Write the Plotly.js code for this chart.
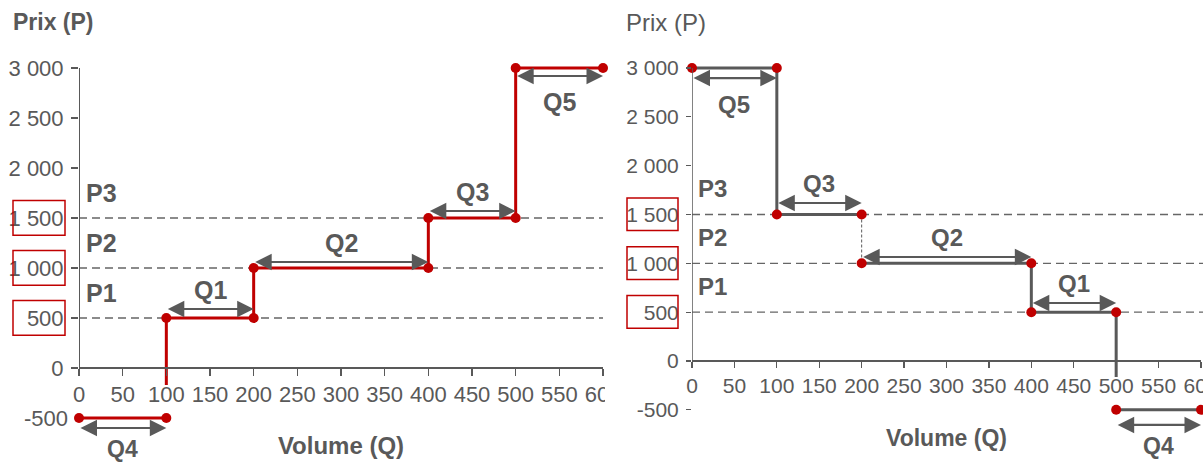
<!DOCTYPE html>
<html>
<head>
<meta charset="utf-8">
<script src="https://cdn.plot.ly/plotly-3.0.1.min.js"></script>
<style>
  html, body { margin: 0; padding: 0; background: #fff; }
  #chart { width: 1203px; height: 464px; }
</style>
</head>
<body>
<div id="chart"></div>
<script>
// ---------- DATA ----------
// Left chart: supply (offre) curve
const offreStepX = [100, 100, 200, 200, 400, 400, 500, 500, 600];
const offreStepY = [-170, 500, 500, 1000, 1000, 1500, 1500, 3000, 3000];
const offreQ4X = [0, 100];
const offreQ4Y = [-500, -500];
const offreDotX = [100, 200, 200, 400, 400, 500, 500, 600, 0, 100];
const offreDotY = [500, 500, 1000, 1000, 1500, 1500, 3000, 3000, -500, -500];
// arrows: label, start Q, end Q, arrow level
const offreArrowLabel = ["Q1", "Q2", "Q3", "Q5", "Q4"];
const offreArrowX0 = [100, 200, 400, 500, 0];
const offreArrowX1 = [200, 400, 500, 600, 100];
const offreArrowY = [590, 1060, 1570, 2920, -600];
const offreArrowLabelSide = ["above", "above", "above", "below", "bottom"];

// Right chart: demand (demande) curve
const demandeStepX = [0, 100, 100, 200];
const demandeStepY = [3000, 3000, 1500, 1500];
const demandeDashX = [200, 200];
const demandeDashY = [1500, 1000];
const demandeStep2X = [200, 400, 400, 500, 500];
const demandeStep2Y = [1000, 1000, 500, 500, -165];
const demandeQ4X = [500, 600];
const demandeQ4Y = [-500, -500];
const demandeDotX = [0, 100, 100, 200, 200, 400, 400, 500, 500, 600];
const demandeDotY = [3000, 3000, 1500, 1500, 1000, 1000, 500, 500, -500, -500];
const demandeArrowLabel = ["Q5", "Q3", "Q2", "Q1", "Q4"];
const demandeArrowX0 = [0, 100, 200, 400, 500];
const demandeArrowX1 = [100, 200, 400, 500, 600];
const demandeArrowY = [2897, 1618, 1065, 594, -655];
const demandeArrowLabelSide = ["below", "above", "above", "above", "bottom"];

// Price levels
const priceLevels = [500, 1000, 1500];
const priceLabels = ["P1", "P2", "P3"];

// Axis ticks
const xTicks = [0, 50, 100, 150, 200, 250, 300, 350, 400, 450, 500, 550, 600];
const yTicks = [0, 500, 1000, 1500, 2000, 2500, 3000];
const yTickText = ["0", "500", "1 000", "1 500", "2 000", "2 500", "3 000"];
const yNegTick = [-500];
const yNegTickText = ["-500"];

// ---------- STYLE ----------
const RED = "#C00000";
const GREY = "#595959";
const FONT = "'Liberation Sans Narrow', 'Arial Narrow', 'Liberation Sans', Arial, sans-serif";
const W = 1203, H = 464;
const px = v => v / W;
const py = v => 1 - v / H;

const traces = [
  // left
  {x: offreStepX, y: offreStepY, xaxis: "x", yaxis: "y", mode: "lines",
   line: {color: RED, width: 3}, hoverinfo: "skip"},
  {x: offreQ4X, y: offreQ4Y, xaxis: "x", yaxis: "y", mode: "lines",
   line: {color: RED, width: 3}, hoverinfo: "skip"},
  {x: offreDotX, y: offreDotY, xaxis: "x", yaxis: "y", mode: "markers",
   marker: {color: RED, size: 10}, cliponaxis: false, hoverinfo: "skip"},
  // right
  {x: demandeStepX, y: demandeStepY, xaxis: "x2", yaxis: "y2", mode: "lines",
   line: {color: GREY, width: 3}, hoverinfo: "skip"},
  {x: demandeDashX, y: demandeDashY, xaxis: "x2", yaxis: "y2", mode: "lines",
   line: {color: GREY, width: 1, dash: "3px,2px"}, hoverinfo: "skip"},
  {x: demandeStep2X, y: demandeStep2Y, xaxis: "x2", yaxis: "y2", mode: "lines",
   line: {color: GREY, width: 3}, hoverinfo: "skip"},
  {x: demandeQ4X, y: demandeQ4Y, xaxis: "x2", yaxis: "y2", mode: "lines",
   line: {color: GREY, width: 3}, hoverinfo: "skip"},
  {x: demandeDotX, y: demandeDotY, xaxis: "x2", yaxis: "y2", mode: "markers",
   marker: {color: RED, size: 10}, cliponaxis: false, hoverinfo: "skip"},
  // dummy for the overlay axis carrying -500 label on the left chart
  {x: [0], y: [0], xaxis: "x", yaxis: "y3", mode: "markers",
   marker: {opacity: 0}, hoverinfo: "skip", showlegend: false}
];

const annotations = [];
const shapes = [];
const labelShift = {above: 19, below: -26, bottom: -21};

function addArrows(labels, x0s, x1s, ys, sides, xr, yr, fsize) {
  labels.forEach((lab, i) => {
    annotations.push({
      xref: xr, yref: yr, axref: xr, ayref: yr,
      x: x1s[i], y: ys[i], ax: x0s[i], ay: ys[i],
      text: "", showarrow: true, arrowside: "end+start",
      arrowhead: 2, arrowsize: 1.5, arrowwidth: 2.2, arrowcolor: GREY,
      standoff: 0, startstandoff: 0
    });
    annotations.push({
      xref: xr, yref: yr, x: (x0s[i] + x1s[i]) / 2, y: ys[i],
      text: "<b>" + lab + "</b>", showarrow: false,
      yanchor: "middle", yshift: labelShift[sides[i]],
      font: {family: FONT, size: sides[i] === "bottom" ? 23 : fsize, color: GREY}
    });
  });
}

addArrows(offreArrowLabel, offreArrowX0, offreArrowX1, offreArrowY, offreArrowLabelSide, "x", "y", 25);
addArrows(demandeArrowLabel, demandeArrowX0, demandeArrowX1, demandeArrowY, demandeArrowLabelSide, "x2", "y2", 24);

// price level dashed lines, P labels, red boxes
priceLevels.forEach((p, i) => {
  shapes.push({type: "line", xref: "x domain", yref: "y", x0: 0, x1: 1, y0: p, y1: p,
    line: {color: "#666666", width: 1.4, dash: "8px,5px"}, layer: "below"});
  shapes.push({type: "line", xref: "x2 domain", yref: "y2", x0: 0, x1: 1.01, y0: p, y1: p,
    line: {color: "#666666", width: 1.4, dash: "8px,5px"}, layer: "below"});
  annotations.push({xref: "paper", yref: "y", x: px(84), y: p, xanchor: "left",
    yanchor: "middle", yshift: 25, showarrow: false,
    text: "<b>" + priceLabels[i] + "</b>", font: {family: FONT, size: 25, color: GREY}});
  annotations.push({xref: "paper", yref: "y2", x: px(696), y: p, xanchor: "left",
    yanchor: "middle", yshift: 26, showarrow: false,
    text: "<b>" + priceLabels[i] + "</b>", font: {family: FONT, size: 24, color: GREY}});
  shapes.push({type: "rect", xref: "paper", yref: "y", x0: px(13), x1: px(65),
    y0: p - 172, y1: p + 175, line: {color: RED, width: 1.5}, layer: "above"});
  shapes.push({type: "rect", xref: "paper", yref: "y2", x0: px(627), x1: px(678),
    y0: p - 165, y1: p + 170, line: {color: RED, width: 1.5}, layer: "above"});
});

// y axis lines (0 to 3000)
shapes.push({type: "line", xref: "x", yref: "y", x0: 0, x1: 0,
  y0: yTicks[0], y1: yTicks[yTicks.length - 1], line: {color: GREY, width: 2}});
shapes.push({type: "line", xref: "x2", yref: "y2", x0: 0, x1: 0,
  y0: yTicks[0], y1: yTicks[yTicks.length - 1], line: {color: GREY, width: 1.5}});

// image crop of left chart (hides the cut-off part of the last tick label)
shapes.push({type: "rect", xref: "paper", yref: "paper", x0: px(605), x1: px(622),
  y0: py(420), y1: py(372), fillcolor: "#fff", line: {width: 0}, layer: "above"});

// y axis titles
annotations.push({xref: "paper", yref: "paper", x: px(11), y: py(22), xanchor: "left",
  yanchor: "middle", showarrow: false, text: "<b>Prix (P)</b>",
  font: {family: FONT, size: 23, color: GREY}});
annotations.push({xref: "paper", yref: "paper", x: px(624), y: py(22), xanchor: "left",
  yanchor: "middle", showarrow: false, text: "Prix (P)",
  font: {family: FONT, size: 24, color: GREY}});

const tickFontL = {family: FONT, size: 22, color: GREY};
const tickFontR = {family: FONT, size: 21, color: GREY};

// left: y=3000 at 68px, y=0 at 368px (100px/1000)
const yL = [-(H - 368) * 10, 3000 + 68 * 10];
// right: y=3000 at 68px, y=0 at 361px
const kR = (361 - 68) / 3000;
const yR = [-(H - 361) / kR, 3000 + 68 / kR];

const layout = {
  width: W, height: H, autosize: false,
  margin: {l: 0, r: 0, t: 0, b: 0, pad: 0},
  paper_bgcolor: "#fff", plot_bgcolor: "rgba(0,0,0,0)",
  showlegend: false,
  xaxis: {domain: [px(79), px(603)], range: [0, 600], anchor: "free", position: (H - 368) / H,
    tickvals: xTicks, ticktext: xTicks.map(String), ticks: "outside", ticklen: 7, tickwidth: 1.5,
    tickcolor: GREY, showline: true, linecolor: GREY, linewidth: 2, showgrid: false,
    zeroline: false, tickfont: tickFontL, ticklabeloverflow: "allow",
    title: {text: "<b>Volume (Q)</b>", font: {family: FONT, size: 24, color: GREY}, standoff: 30}},
  yaxis: {domain: [0, 1], range: yL, anchor: "x", tickvals: yTicks, ticktext: yTickText,
    ticks: "outside", ticklen: 7, tickwidth: 1.5, tickcolor: GREY, showline: false,
    showgrid: false, zeroline: false, tickfont: tickFontL, ticklabelstandoff: 3},
  yaxis3: {overlaying: "y", range: yL, anchor: "x", side: "left", tickvals: yNegTick,
    ticktext: yNegTickText, ticks: "", showline: false, showgrid: false, zeroline: false,
    tickfont: tickFontL, ticklabelstandoff: 10},
  xaxis2: {domain: [px(692), px(1201)], range: [0, 600], anchor: "free", position: (H - 361) / H,
    tickvals: xTicks, ticktext: xTicks.map(String), ticks: "outside", ticklen: 6, tickwidth: 1.2,
    tickcolor: GREY, showline: true, linecolor: GREY, linewidth: 2, showgrid: false,
    zeroline: false, tickfont: tickFontR, ticklabeloverflow: "allow",
    title: {text: "<b>Volume (Q)</b>", font: {family: FONT, size: 23, color: GREY}, standoff: 33}},
  yaxis2: {domain: [0, 1], range: yR, anchor: "x2", tickvals: yNegTick.concat(yTicks),
    ticktext: yNegTickText.concat(yTickText), ticks: "outside", ticklen: 5, tickwidth: 1.2,
    tickcolor: GREY, showline: false, showgrid: false, zeroline: false, tickfont: tickFontR,
    ticklabelstandoff: 3},
  shapes: shapes,
  annotations: annotations
};

Plotly.newPlot("chart", traces, layout, {staticPlot: true, displayModeBar: false});
</script>
</body>
</html>
